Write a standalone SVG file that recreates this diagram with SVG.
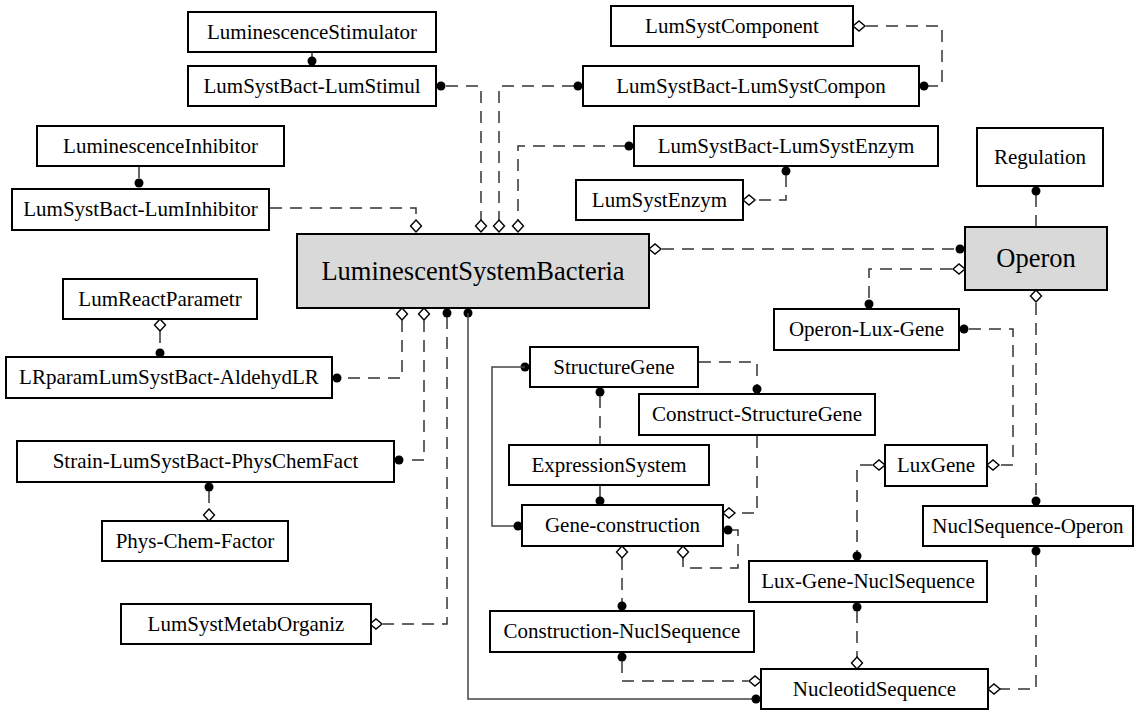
<svg xmlns="http://www.w3.org/2000/svg" width="1144" height="710" viewBox="0 0 1144 710">
<style>
.box{fill:#fff;stroke:#000;stroke-width:2}
.main{fill:#d9d9d9;stroke:#000;stroke-width:2}
.t{font-family:"Liberation Serif","Times New Roman",serif;font-size:21px;fill:#000;text-anchor:middle}
.tb{font-family:"Liberation Serif","Times New Roman",serif;font-size:26.5px;fill:#000;text-anchor:middle}
.d{fill:none;stroke:#333;stroke-width:1.5;stroke-dasharray:12 8}
.s{fill:none;stroke:#444;stroke-width:1.5}
.dot{fill:#000}
.dia{fill:#fff;stroke:#000;stroke-width:1.4}
</style>
<defs>
<polygon id="dv" class="dia" points="0,-6 5.5,0 0,6 -5.5,0"/>
<polygon id="dh" class="dia" points="-6,0 0,-5 6,0 0,5"/>
</defs>
<rect width="1144" height="710" fill="#fff"/>
<g id="connectors">
<path class="d" d="M312,52 V58"/><circle class="dot" cx="312" cy="61" r="4.5"/>
<path class="d" d="M446,86 H481 V220"/><circle class="dot" cx="441" cy="86" r="4.5"/><use href="#dv" x="481" y="226"/>
<path class="d" d="M574,86 H499 V220"/><circle class="dot" cx="578" cy="86" r="4.5"/><use href="#dv" x="499" y="226"/>
<path class="d" d="M625,146 H518 V220"/><circle class="dot" cx="629" cy="146" r="4.5"/><use href="#dv" x="518" y="226"/>
<path class="d" d="M270,208 H416 V220"/><use href="#dv" x="416" y="226"/>
<path class="d" d="M139,166 V180"/><circle class="dot" cx="139" cy="183" r="4.5"/>
<use href="#dh" x="859" y="26"/><path class="d" d="M866,26 H942 V86 H928"/><circle class="dot" cx="924" cy="86" r="4.5"/>
<circle class="dot" cx="786" cy="171" r="4.5"/><path class="d" d="M786,175 V200 H755"/><use href="#dh" x="749" y="200"/>
<circle class="dot" cx="1036" cy="191" r="4.5"/><path class="d" d="M1036,195 V227"/>
<use href="#dh" x="655" y="249"/><path class="d" d="M662,249 H956"/><circle class="dot" cx="960" cy="249" r="4.5"/>
<use href="#dh" x="959" y="269"/><path class="d" d="M952,269 H869 V300"/><circle class="dot" cx="869" cy="304" r="4.5"/>
<use href="#dv" x="1036" y="296"/><path class="d" d="M1036,303 V497"/><circle class="dot" cx="1036" cy="501" r="4.5"/>
<circle class="dot" cx="964" cy="329" r="4.5"/><path class="d" d="M969,329 H1013 V465 H999"/><use href="#dh" x="993" y="465"/>
<use href="#dh" x="879" y="465"/><path class="d" d="M872,465 H857 V552"/><circle class="dot" cx="857" cy="556" r="4.5"/>
<circle class="dot" cx="857" cy="607" r="4.5"/><path class="d" d="M857,611 V657"/><use href="#dv" x="857" y="663"/>
<circle class="dot" cx="1036" cy="551" r="4.5"/><path class="d" d="M1036,555 V689 H1000"/><use href="#dh" x="994" y="689"/>
<path class="d" d="M699,362 H757 V385"/><circle class="dot" cx="757" cy="389" r="4.5"/>
<path class="d" d="M757,436 V513 H736"/><use href="#dh" x="729" y="513"/>
<circle class="dot" cx="600" cy="392" r="4.5"/><path class="d" d="M600,396 V445"/>
<path class="d" d="M600,485 V497"/><circle class="dot" cx="600" cy="501" r="4.5"/>
<circle class="dot" cx="728" cy="530" r="4.5"/><path class="d" d="M732,530 H738 V568 H683 V558"/><use href="#dv" x="683" y="552"/>
<use href="#dv" x="622" y="552"/><path class="d" d="M622,558 V602"/><circle class="dot" cx="622" cy="606" r="4.5"/>
<circle class="dot" cx="622" cy="657" r="4.5"/><path class="d" d="M622,661 V681 H748"/><use href="#dh" x="755" y="681"/>
<circle class="dot" cx="468" cy="313" r="4.5"/><path class="s" d="M468,313 V699 H756"/><circle class="dot" cx="756" cy="699" r="4.5"/>
<circle class="dot" cx="525" cy="367" r="4.5"/><path class="s" d="M525,367 H492 V526 H518"/><circle class="dot" cx="518" cy="526" r="4.5"/>
<use href="#dv" x="402" y="314"/><path class="d" d="M402,320 V378 H342"/><circle class="dot" cx="337" cy="378" r="4.5"/>
<use href="#dv" x="424" y="314"/><path class="d" d="M424,320 V460 H404"/><circle class="dot" cx="399" cy="460" r="4.5"/>
<circle class="dot" cx="447" cy="313" r="4.5"/><path class="d" d="M447,317 V624 H383"/><use href="#dh" x="376" y="624"/>
<use href="#dv" x="160" y="325"/><path class="d" d="M160,331 V349"/><circle class="dot" cx="160" cy="353" r="4.5"/>
<circle class="dot" cx="209" cy="487" r="4.5"/><path class="d" d="M209,491 V509"/><use href="#dv" x="209" y="515"/>
</g>
<g id="LuminescenceStimulator"><rect class="box" x="188" y="12" width="248" height="40"/><text class="t" x="312" y="39">LuminescenceStimulator</text></g>
<g id="LumSystBact-LumStimul"><rect class="box" x="188" y="66" width="248" height="40"/><text class="t" x="312" y="93">LumSystBact-LumStimul</text></g>
<g id="LuminescenceInhibitor"><rect class="box" x="37" y="126" width="247" height="40"/><text class="t" x="160.5" y="153">LuminescenceInhibitor</text></g>
<g id="LumSystBact-LumInhibitor"><rect class="box" x="12" y="189" width="257" height="41"/><text class="t" x="140.5" y="216">LumSystBact-LumInhibitor</text></g>
<g id="LumSystComponent"><rect class="box" x="611" y="6" width="242" height="40"/><text class="t" x="732" y="33">LumSystComponent</text></g>
<g id="LumSystBact-LumSystCompon"><rect class="box" x="583" y="66" width="336" height="40"/><text class="t" x="751" y="93">LumSystBact-LumSystCompon</text></g>
<g id="LumSystBact-LumSystEnzym"><rect class="box" x="634" y="126" width="304" height="40"/><text class="t" x="786" y="153">LumSystBact-LumSystEnzym</text></g>
<g id="LumSystEnzym"><rect class="box" x="576" y="180" width="167" height="40"/><text class="t" x="659.5" y="207">LumSystEnzym</text></g>
<g id="Regulation"><rect class="box" x="977" y="128" width="126" height="58"/><text class="t" x="1040" y="164">Regulation</text></g>
<g id="Operon"><rect class="main" x="965" y="227" width="142" height="63"/><text class="tb" x="1036" y="267">Operon</text></g>
<g id="LuminescentSystemBacteria"><rect class="main" x="297" y="234" width="352" height="74"/><text class="tb" x="473" y="280">LuminescentSystemBacteria</text></g>
<g id="LumReactParametr"><rect class="box" x="63" y="279" width="194" height="40"/><text class="t" x="160" y="306">LumReactParametr</text></g>
<g id="LRparamLumSystBact-AldehydLR"><rect class="box" x="6" y="357" width="326" height="41"/><text class="t" x="169" y="384">LRparamLumSystBact-AldehydLR</text></g>
<g id="Strain-LumSystBact-PhysChemFact"><rect class="box" x="17" y="441" width="377" height="41"/><text class="t" x="205.5" y="468">Strain-LumSystBact-PhysChemFact</text></g>
<g id="Phys-Chem-Factor"><rect class="box" x="102" y="521" width="186" height="40"/><text class="t" x="195" y="548">Phys-Chem-Factor</text></g>
<g id="LumSystMetabOrganiz"><rect class="box" x="121" y="604" width="250" height="40"/><text class="t" x="246" y="631">LumSystMetabOrganiz</text></g>
<g id="StructureGene"><rect class="box" x="530" y="347" width="168" height="40"/><text class="t" x="614" y="374">StructureGene</text></g>
<g id="Construct-StructureGene"><rect class="box" x="639" y="394" width="236" height="41"/><text class="t" x="757" y="421">Construct-StructureGene</text></g>
<g id="ExpressionSystem"><rect class="box" x="509" y="445" width="200" height="40"/><text class="t" x="609" y="472">ExpressionSystem</text></g>
<g id="Gene-construction"><rect class="box" x="522" y="505" width="201" height="41"/><text class="t" x="622.5" y="532">Gene-construction</text></g>
<g id="Construction-NuclSequence"><rect class="box" x="490" y="611" width="264" height="41"/><text class="t" x="622" y="638">Construction-NuclSequence</text></g>
<g id="Operon-Lux-Gene"><rect class="box" x="774" y="309" width="185" height="41"/><text class="t" x="866.5" y="336">Operon-Lux-Gene</text></g>
<g id="LuxGene"><rect class="box" x="885" y="445" width="102" height="41"/><text class="t" x="936" y="472">LuxGene</text></g>
<g id="NuclSequence-Operon"><rect class="box" x="923" y="506" width="210" height="40"/><text class="t" x="1028" y="533">NuclSequence-Operon</text></g>
<g id="Lux-Gene-NuclSequence"><rect class="box" x="749" y="561" width="238" height="41"/><text class="t" x="868" y="588">Lux-Gene-NuclSequence</text></g>
<g id="NucleotidSequence"><rect class="box" x="761" y="669" width="227" height="40"/><text class="t" x="874.5" y="696">NucleotidSequence</text></g>
</svg>
